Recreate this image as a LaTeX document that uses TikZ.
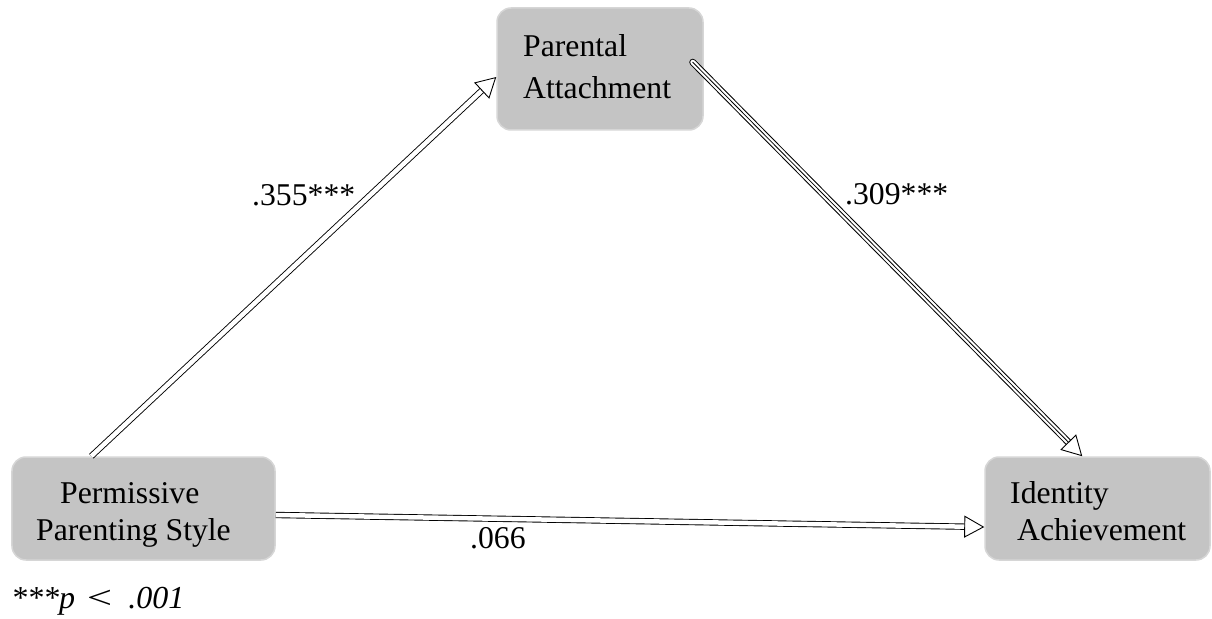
\documentclass[tikz,border=0pt]{standalone}
\usepackage{fontspec}
\setmainfont{Liberation Serif}
\usetikzlibrary{arrows.meta,calc}
\definecolor{boxgray}{RGB}{196,196,196}
\definecolor{boxedge}{RGB}{214,214,214}
\begin{document}
\begin{tikzpicture}[x=1bp,y=-1bp,
  box/.style={draw=boxedge, line width=1.5bp, fill=boxgray, rounded corners=14bp, inner sep=0pt},
  lbl/.style={anchor=base west, inner sep=0pt, font=\fontsize{31.7bp}{38bp}\selectfont},
  shaft/.style={draw, line width=0.9bp, double=white, double distance=4.5bp},
  head/.style={-{Triangle[length=20bp,width=22bp,fill=white,line width=0.9bp]}, line width=0.8bp}
]
\useasboundingbox (0,0) rectangle (1212,619);

% boxes
\node[box, minimum width=206bp, minimum height=122bp] (pa) at (600,69) {};
\node[box, minimum width=263bp, minimum height=103bp] (pps) at (143.5,508.5) {};
\node[box, minimum width=225bp, minimum height=103bp] (ia) at (1097.5,508.5) {};

% box texts
\node[lbl] (pa1) at (523,57) {Parental};
\node[lbl] (pa2) at (523,99) {Attachment};
\node[lbl] (pps1) at (60,503) {Permissive};
\node[lbl] (pps2) at (36,540) {Parenting Style};
\node[lbl] (ia1) at (1010,503) {Identity};
\node[lbl] (ia2) at (1017,540) {Achievement};

% connector end points
\coordinate (a1s) at ($(pps.north west)+(80,0)$);
\coordinate (a1e) at ($(pa.west)+(0,8)$);
\coordinate (a2s) at ($(pa.north east)+(-11,55)$);
\coordinate (a2e) at ($(ia.north west)+(98,0)$);
\coordinate (a3s) at ($(pps.east)+(0,6.5)$);
\coordinate (a3e) at ($(ia.west)+(0,18.5)$);

% arrow 1
\draw[shaft, shorten >=18bp] (a1s) -- (a1e);
\draw[head] ($(a1e)!20bp!(a1s)$) -- (a1e);
% arrow 2 (triple line)
\draw[shaft, line width=1bp, double distance=5bp, line cap=round, shorten >=18bp] (a2s) -- (a2e);
\draw[line width=0.8bp, line cap=round, shorten >=19bp] (a2s) -- (a2e);
\draw[head] ($(a2e)!20bp!(a2s)$) -- (a2e);
% arrow 3
\draw[shaft, shorten >=18bp] (a3s) -- (a3e);
\draw[head] ($(a3e)!20bp!(a3s)$) -- (a3e);

% labels
\node[lbl] (l1) at (252,206) {.355***};
\node[lbl] (l2) at (845,205) {.309***};
\node[lbl] (l3) at (470,548) {.066};
\node[lbl, font=\fontsize{32bp}{36bp}\selectfont\itshape] (note) at (11,608)
  {***p\hspace{9bp}\scalebox{1.4}[1]{<}\hspace{14bp}.001};
\end{tikzpicture}
\end{document}
